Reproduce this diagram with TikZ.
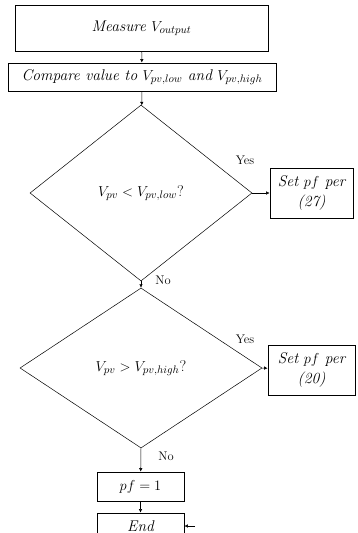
\documentclass[tikz,border=0pt]{standalone}
\usepackage{amsmath,amssymb}
\usepackage{tikz}
\usetikzlibrary{arrows.meta,shapes.geometric}

\begin{document}
\begin{tikzpicture}[x=1pt,y=-1pt,
  box/.style={draw, line width=0.8pt, inner sep=0pt, font=\fontsize{15.5}{20}\selectfont\itshape},
  decision/.style={draw, diamond, inner sep=0pt, line width=0.5pt, font=\fontsize{15.5}{20}\selectfont},
  answer/.style={font=\fontsize{12.5}{15}\selectfont},
  flow/.style={-{Latex[length=3.5pt,width=3.5pt]}, line width=0.5pt}]
  \useasboundingbox (0,0) rectangle (357,533);
  \clip (0,0) rectangle (357,533);
  \node[box, minimum width=253pt, minimum height=46pt] (measure) at (141.5,28) {Measure $V_{output}$};
  \node[box, minimum width=268pt, minimum height=28pt] (compare) at (142,77) {Compare value to $V_{pv,low}$ and $V_{pv,high}$};
  \node[decision, minimum width=222pt, minimum height=176pt] (dlow) at (141,193) {$V_{pv} < V_{pv,low}$?};
  \node[decision, minimum width=242pt, minimum height=160pt] (dhigh) at (141,368) {$V_{pv} > V_{pv,high}$?};
  \node[box, align=center, minimum width=83pt, minimum height=50pt] (setlow) at (311.5,193) {Set $pf$ per\\(27)};
  \node[box, align=center, minimum width=87pt, minimum height=50pt] (sethigh) at (311.5,370) {Set $pf$ per\\(20)};
  \node[box, minimum width=87pt, minimum height=29pt] (pfone) at (140.5,486.5) {$pf = 1$};
  \node[box, minimum width=87pt, minimum height=26pt] (fin) at (140.5,526) {End};
  \coordinate (back) at (195,526);
  % connectors
  \draw[flow] (measure) -- (compare);
  \draw[flow] (compare) -- (dlow);
  \draw[flow] (dlow.south) -- (dhigh.north);
  \draw[flow] (dlow.east) -- (setlow);
  \draw[flow] (dhigh.east) -- (sethigh);
  \draw[flow] (dhigh.south) -- (pfone);
  \draw[flow] (pfone) -- (fin);
  \draw[flow] (back) -- (fin.east);
  % labels
  \node[answer] at (245,160) {Yes};
  \node[answer] at (245,339) {Yes};
  \node[answer] at (163,280) {No};
  \node[answer] at (166,456) {No};
\end{tikzpicture}
\end{document}
